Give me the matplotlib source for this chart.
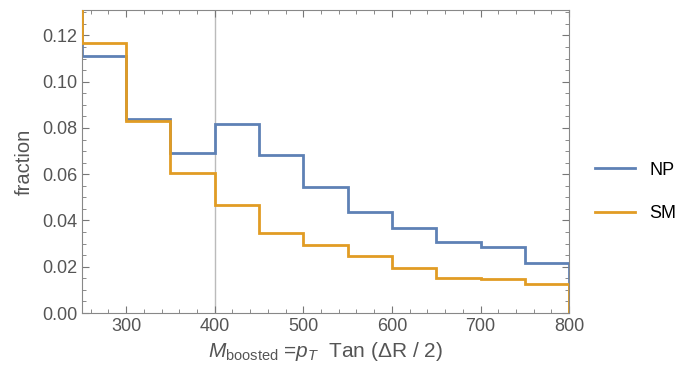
import numpy as np
import matplotlib
matplotlib.use("Agg")
import matplotlib.pyplot as plt
from matplotlib.ticker import MultipleLocator

plt.rcParams['font.family'] = ['Liberation Sans', 'DejaVu Sans']
plt.rcParams['mathtext.fontset'] = 'custom'
plt.rcParams['mathtext.rm'] = 'Liberation Sans'
plt.rcParams['mathtext.it'] = 'Liberation Sans:italic'

# bin edges (first bin is clipped above the plot range)
edges = [200, 250, 300, 350, 400, 450, 500, 550, 600, 650, 700, 750, 800]
np_frac = [0.140, 0.111, 0.0840, 0.0693, 0.0819, 0.0682, 0.0545, 0.0435,
           0.0366, 0.0305, 0.0285, 0.0216]
sm_frac = [0.150, 0.1167, 0.0829, 0.0604, 0.0469, 0.0347, 0.0292, 0.0247,
           0.0196, 0.0152, 0.0147, 0.0125]
labels = ["NP", "SM"]

blue = "#5E81B5"
orange = "#E19C24"
gray = "#555555"

fig = plt.figure(figsize=(6.94, 3.70), dpi=100)
ax = fig.add_axes([0.118, 0.154, 0.702, 0.819])

ax.axvline(400, color="#BBBBBB", lw=1, zorder=1)
ax.stairs(np_frac, edges, color=blue, lw=2, label=labels[0], zorder=2)
ax.stairs(sm_frac, edges, color=orange, lw=2, label=labels[1], zorder=3)

ax.set_xlim(250, 800)
ax.set_ylim(0, 0.131)
ax.xaxis.set_major_locator(MultipleLocator(100))
ax.xaxis.set_minor_locator(MultipleLocator(20))
ax.yaxis.set_major_locator(MultipleLocator(0.02))
ax.yaxis.set_minor_locator(MultipleLocator(0.005))
ax.yaxis.set_major_formatter(matplotlib.ticker.FormatStrFormatter('%.2f'))

for s in ax.spines.values():
    s.set_color("#888888")
ax.tick_params(which='both', direction='in', top=True, right=True, colors="#777777",
               labelcolor=gray, labelsize=13)
ax.tick_params(which='major', length=5)
ax.tick_params(which='minor', length=3)
ax.tick_params(axis='both', labeltop=False, labelright=False)

ax.set_ylabel("fraction", color=gray, fontsize=14.5, labelpad=6)
ax.set_xlabel(r"$M_{\mathrm{boosted}}$ =$p_T$  Tan ($\Delta$R / 2)", color=gray, fontsize=15,
              labelpad=4)

leg = ax.legend(loc='center left', bbox_to_anchor=(1.02, 0.40), frameon=False,
                fontsize=13, handlelength=2.2, labelspacing=1.45)
for line in leg.get_lines():
    line.set_linewidth(2)

fig.savefig("out.png", dpi=100)
